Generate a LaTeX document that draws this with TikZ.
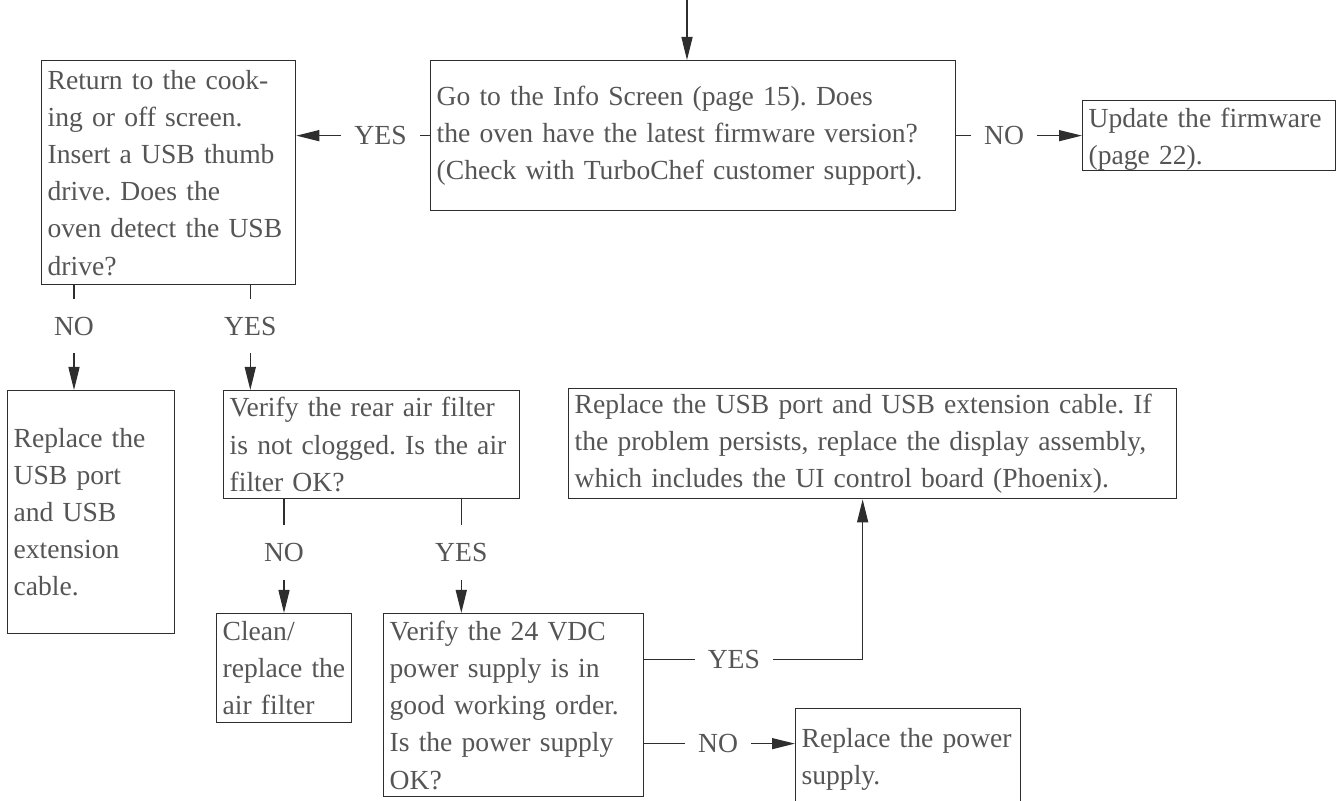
\documentclass[tikz,border=0pt]{standalone}
\usepackage{fontspec}
\setmainfont{Liberation Serif}
\usepackage{tikz}
\usetikzlibrary{arrows.meta,positioning}
\definecolor{inkgrey}{HTML}{555555}
\definecolor{rulegrey}{HTML}{2E2E2E}
\frenchspacing
\begin{document}
\begin{tikzpicture}[x=0.5pt,y=-0.5pt,
  font=\fontsize{13.8pt}{18.6pt}\selectfont,
  box/.style={draw=rulegrey,line width=0.65pt,anchor=north west,align=left,inner xsep=3pt,inner ysep=1pt,text=inkgrey},
  arr/.style={-{Triangle[length=11.5pt,width=5.5pt]},line width=0.65pt,rulegrey},
  lblh/.style={fill=white,text=inkgrey,inner xsep=6.5pt,inner ysep=1pt},
  lblv/.style={fill=white,text=inkgrey,inner xsep=1pt,inner ysep=9pt}]
\useasboundingbox (0,0) rectangle (1340,801);
\clip (0,0) rectangle (1340,801);
\coordinate (entry) at (687,0);
\node[box,text width=256.5pt,minimum height=75pt](info) at (430,60){Go to the Info Screen (page 15). Does\\ the oven have the latest firmware version?\\ (Check with TurboChef customer support).};
\node[box,text width=120.5pt,minimum height=35pt,inner ysep=0pt,text depth=18pt](fw) at (1082,100){Update the firmware\\ (page 22).};
\node[box,text width=121pt,minimum height=112pt](usbq) at (41,60){Return to the cook-\\ ing or off screen.\\ Insert a USB thumb\\ drive. Does the\\ oven detect the USB\\ drive?};
\node[box,text width=77.5pt,minimum height=121.5pt](rep) at (7,390){Replace the\\ USB port\\ and USB\\ extension\\ cable.};
\node[box,text width=142pt,minimum height=54pt](filt) at (223,390){Verify the rear air filter\\ is not clogged. Is the air\\ filter OK?};
\node[box,text width=61.5pt,minimum height=54.5pt](clean) at (216,613){Clean/\\ replace the\\ air filter};
\node[box,text width=124pt,minimum height=91.5pt](vdc) at (383,613){Verify the 24 VDC\\ power supply is in\\ good working order.\\ Is the power supply\\ OK?};
\node[box,text width=298pt,minimum height=55pt](disp) at (568,388){Replace the USB port and USB extension cable. If\\ the problem persists, replace the display assembly,\\ which includes the UI control board (Phoenix).};
\node[box,text width=106.5pt,minimum height=50.5pt](psu) at (795,708){Replace the power\\ supply.};
\draw[arr](entry)--(entry |- info.north);
\draw[arr](info.west)--node[lblh,pos=.37]{YES}(info.west -| usbq.east);
\draw[arr](info.east)--node[lblh,pos=.38]{NO}(info.east -| fw.west);
\draw[arr]([xshift=16.5pt]usbq.south west)--node[lblv,pos=.39]{NO}([xshift=16.5pt]usbq.south west |- rep.north);
\draw[arr]([xshift=-23pt]usbq.south east)--node[lblv,pos=.39]{YES}([xshift=-23pt]usbq.south east |- filt.north);
\draw[arr]([xshift=30.5pt]filt.south west)--node[lblv,pos=.47]{NO}([xshift=30.5pt]filt.south west |- clean.north);
\draw[arr]([xshift=-29.5pt]filt.south east)--node[lblv,pos=.47]{YES}([xshift=-29.5pt]filt.south east |- vdc.north);
\draw[arr]([yshift=22.75pt]vdc.east)-|node[lblh,pos=.205]{YES}([xshift=-5pt]disp.south);
\draw[arr]([yshift=-19.25pt]vdc.east)--node[lblh,pos=.49]{NO}([yshift=-19.25pt]vdc.east -| psu.west);
\end{tikzpicture}
\end{document}
